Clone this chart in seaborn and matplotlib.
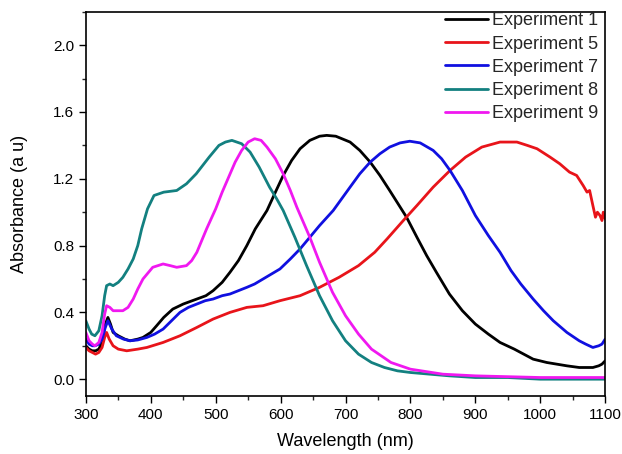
import matplotlib
matplotlib.use("Agg")
import matplotlib.pyplot as plt
import seaborn as sns
import pandas as pd
from matplotlib.ticker import MultipleLocator

# ---- data ----
exp1_x = [300, 305, 310, 315, 320, 325, 330, 334, 338, 342, 350, 360, 368, 380, 388, 400, 409, 420, 434, 450, 471, 485, 496, 510, 522, 535, 548, 561, 579, 592, 604, 617, 630, 645, 660, 671, 685, 707, 722, 738, 753, 768, 781, 794, 810, 825, 840, 860, 880, 900, 920, 938, 960, 989, 1010, 1041, 1060, 1081, 1090, 1095, 1100]
exp1_y = [0.20, 0.18, 0.17, 0.17, 0.18, 0.22, 0.33, 0.37, 0.33, 0.28, 0.26, 0.24, 0.23, 0.24, 0.25, 0.28, 0.32, 0.37, 0.42, 0.45, 0.48, 0.50, 0.53, 0.58, 0.64, 0.71, 0.80, 0.90, 1.01, 1.12, 1.22, 1.31, 1.38, 1.43, 1.455, 1.46, 1.455, 1.42, 1.37, 1.30, 1.22, 1.13, 1.05, 0.97, 0.85, 0.74, 0.64, 0.51, 0.41, 0.33, 0.27, 0.22, 0.18, 0.12, 0.10, 0.08, 0.07, 0.07, 0.08, 0.09, 0.11]

exp5_x = [300, 305, 310, 315, 320, 325, 329, 332, 336, 342, 350, 363, 380, 394, 419, 445, 471, 496, 522, 548, 573, 599, 630, 660, 690, 720, 745, 764, 789, 810, 835, 861, 885, 910, 938, 950, 964, 980, 995, 1015, 1030, 1045, 1056, 1066, 1072, 1076, 1081, 1085, 1088, 1092, 1095, 1097, 1100]
exp5_y = [0.19, 0.17, 0.16, 0.15, 0.16, 0.19, 0.25, 0.28, 0.24, 0.20, 0.18, 0.17, 0.18, 0.19, 0.22, 0.26, 0.31, 0.36, 0.40, 0.43, 0.44, 0.47, 0.50, 0.55, 0.61, 0.68, 0.76, 0.84, 0.95, 1.04, 1.15, 1.25, 1.33, 1.39, 1.42, 1.42, 1.42, 1.40, 1.38, 1.33, 1.29, 1.24, 1.22, 1.16, 1.12, 1.13, 1.04, 0.97, 1.00, 0.98, 0.95, 1.00, 0.96]

exp7_x = [300, 305, 310, 314, 320, 325, 330, 334, 340, 347, 358, 368, 380, 394, 406, 419, 432, 445, 458, 471, 484, 496, 510, 522, 535, 548, 560, 573, 586, 599, 615, 630, 645, 660, 681, 694, 707, 722, 738, 753, 768, 784, 799, 815, 835, 848, 861, 880, 900, 920, 938, 955, 970, 989, 1005, 1020, 1041, 1060, 1070, 1081, 1090, 1095, 1100]
exp7_y = [0.24, 0.21, 0.20, 0.20, 0.21, 0.24, 0.31, 0.35, 0.30, 0.26, 0.24, 0.23, 0.235, 0.25, 0.27, 0.30, 0.35, 0.40, 0.43, 0.45, 0.47, 0.48, 0.50, 0.51, 0.53, 0.55, 0.57, 0.60, 0.63, 0.66, 0.72, 0.78, 0.85, 0.92, 1.01, 1.08, 1.15, 1.23, 1.30, 1.35, 1.39, 1.415, 1.425, 1.415, 1.37, 1.32, 1.25, 1.13, 0.98, 0.86, 0.76, 0.65, 0.57, 0.48, 0.41, 0.35, 0.28, 0.23, 0.21, 0.19, 0.20, 0.21, 0.24]

exp8_x = [300, 305, 309, 314, 320, 325, 329, 332, 337, 342, 350, 357, 365, 373, 380, 386, 395, 405, 420, 440, 455, 470, 490, 505, 515, 525, 540, 553, 567, 583, 594, 604, 622, 640, 660, 680, 700, 720, 740, 760, 780, 800, 830, 860, 900, 950, 1000, 1050, 1100]
exp8_y = [0.35, 0.30, 0.27, 0.26, 0.29, 0.38, 0.50, 0.56, 0.57, 0.56, 0.58, 0.61, 0.66, 0.72, 0.80, 0.90, 1.02, 1.10, 1.12, 1.13, 1.17, 1.23, 1.33, 1.40, 1.42, 1.43, 1.41, 1.36, 1.27, 1.15, 1.08, 1.01, 0.85, 0.68, 0.50, 0.35, 0.23, 0.15, 0.10, 0.07, 0.05, 0.04, 0.03, 0.02, 0.01, 0.01, 0.00, 0.00, 0.00]

exp9_x = [300, 305, 310, 314, 320, 325, 329, 332, 337, 342, 350, 357, 365, 373, 380, 388, 403, 419, 430, 440, 455, 463, 471, 486, 500, 510, 520, 530, 540, 550, 560, 570, 579, 592, 604, 615, 625, 635, 645, 660, 680, 700, 720, 740, 770, 800, 850, 900, 950, 1000, 1050, 1100]
exp9_y = [0.28, 0.23, 0.21, 0.20, 0.22, 0.28, 0.39, 0.44, 0.43, 0.41, 0.41, 0.41, 0.43, 0.48, 0.54, 0.60, 0.67, 0.69, 0.68, 0.67, 0.68, 0.71, 0.76, 0.90, 1.02, 1.12, 1.21, 1.30, 1.37, 1.42, 1.44, 1.43, 1.39, 1.32, 1.23, 1.13, 1.03, 0.94, 0.85, 0.70, 0.52, 0.38, 0.27, 0.18, 0.10, 0.06, 0.03, 0.02, 0.015, 0.01, 0.01, 0.01]

series_names = ["Experiment 1", "Experiment 5", "Experiment 7", "Experiment 8", "Experiment 9"]
series_colors = ["#000000", "#e8141a", "#1010e0", "#138080", "#f018f0"]
x_ticks = [300, 400, 500, 600, 700, 800, 900, 1000, 1100]
y_ticks = [0.0, 0.4, 0.8, 1.2, 1.6, 2.0]

xs = [exp1_x, exp5_x, exp7_x, exp8_x, exp9_x]
ys = [exp1_y, exp5_y, exp7_y, exp8_y, exp9_y]
frames = []
for name, x, y in zip(series_names, xs, ys):
    frames.append(pd.DataFrame({"Wavelength": x, "Absorbance": y, "Series": name}))
df = pd.concat(frames, ignore_index=True)

sns.set_theme(style="white")
plt.rcParams["font.family"] = ["Liberation Sans", "DejaVu Sans"]

fig = plt.figure(figsize=(6.22, 4.54), dpi=100)
ax = fig.add_axes([0.138, 0.128, 0.835, 0.846])

sns.lineplot(data=df, x="Wavelength", y="Absorbance", hue="Series",
             hue_order=series_names, palette=series_colors, linewidth=2.0,
             sort=True, estimator=None, ax=ax)

ax.set_xlim(300, 1100)
ax.set_ylim(-0.1, 2.2)
ax.set_xticks(x_ticks)
ax.set_yticks(y_ticks)
ax.set_yticklabels([f"{v:.1f}" for v in y_ticks])
ax.xaxis.set_minor_locator(MultipleLocator(50))
ax.yaxis.set_minor_locator(MultipleLocator(0.2))
ax.tick_params(axis="both", which="major", direction="out", length=5, width=1,
               labelsize=11, colors="black", bottom=True, left=True, top=False, right=False)
ax.tick_params(axis="both", which="minor", direction="out", length=3, width=1,
               bottom=True, left=True, top=False, right=False)
for sp in ax.spines.values():
    sp.set_color("black")
    sp.set_linewidth(1.2)

ax.set_xlabel("Wavelength (nm)", fontsize=13, color="black", labelpad=8)
ax.set_ylabel("Absorbance (a u)", fontsize=13, color="black", labelpad=18)

leg = ax.legend(loc="upper right", frameon=False, fontsize=13, handlelength=2.4,
                handletextpad=0.2, labelspacing=0.34, borderaxespad=0.0,
                bbox_to_anchor=(1.0, 1.017))
for line in leg.get_lines():
    line.set_linewidth(2.0)

fig.savefig("out.png", dpi=100)
